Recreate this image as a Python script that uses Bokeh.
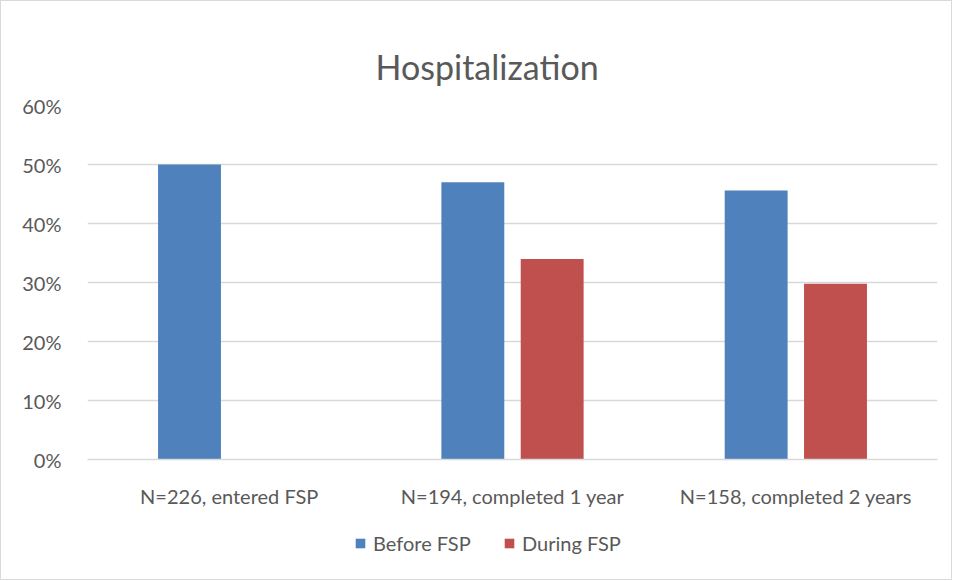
from bokeh.plotting import figure
from bokeh.layouts import column
from bokeh.models import (ColumnDataSource, FactorRange, Range1d, FixedTicker,
                          NumeralTickFormatter, Legend, LegendItem, Title)
from bokeh.transform import dodge
from bokeh.embed import file_html
from bokeh.resources import INLINE

categories = ["N=226, entered FSP", "N=194, completed 1 year", "N=158, completed 2 years"]
before_fsp = [0.50, 0.47, 0.456]
during_fsp = [float("nan"), 0.34, 0.298]
y_ticks = [0, 0.1, 0.2, 0.3, 0.4, 0.5, 0.6]
series_names = ["Before FSP", "During FSP"]
series_colors = ["#4f81bd", "#c0504d"]

FONT = "Lato"
GREY = "#595959"

src = ColumnDataSource(dict(cat=categories, before=before_fsp, during=during_fsp))

p = figure(frame_width=850, frame_height=354, x_range=FactorRange(*categories),
           y_range=Range1d(0, 0.6), output_backend="svg", toolbar_location=None,
           min_border_left=86, min_border_right=13, min_border_top=104, min_border_bottom=62)
p.outline_line_color = None

t = Title(text="Hospitalization", align="left", text_font=FONT, text_font_size="34px",
          text_color=GREY, text_font_style="normal", offset=288, standoff=38)
p.add_layout(t, "above")

p.vbar(x=dodge("cat", -0.14, range=p.x_range), top="before", width=0.222,
       source=src, fill_color=series_colors[0], line_color=None)
p.vbar(x=dodge("cat", 0.14, range=p.x_range), top="during", width=0.222,
       source=src, fill_color=series_colors[1], line_color=None)

p.yaxis.ticker = FixedTicker(ticks=y_ticks)
p.yaxis.formatter = NumeralTickFormatter(format="0%")
p.yaxis.axis_line_color = None
p.yaxis.major_tick_line_color = None
p.yaxis.minor_tick_line_color = None
p.yaxis.major_label_text_font = FONT
p.yaxis.major_label_text_font_size = "20px"
p.yaxis.major_label_text_color = GREY
p.yaxis.major_label_standoff = 20

p.xaxis.axis_line_color = "#d9d9d9"
p.xaxis.axis_line_width = 1.5
p.xaxis.major_tick_line_color = None
p.xaxis.minor_tick_line_color = None
p.xaxis.major_label_text_font = FONT
p.xaxis.major_label_text_font_size = "20px"
p.xaxis.major_label_text_color = GREY
p.xaxis.major_label_standoff = 18

p.xgrid.grid_line_color = None
p.ygrid.grid_line_color = "#d9d9d9"
p.ygrid.grid_line_width = 1.5
p.ygrid.ticker = FixedTicker(ticks=y_ticks)

# legend strip below the chart; its proxy bars lie outside its visible y range
lf = figure(width=950, height=58, x_range=FactorRange(*categories), y_range=Range1d(1, 2),
            x_axis_type=None, y_axis_type=None,
            output_backend="svg", toolbar_location=None, min_border=0)
lf.outline_line_color = None
lf.xgrid.visible = False
lf.ygrid.visible = False
lr1 = lf.vbar(x=dodge("cat", -0.14, range=lf.x_range), top="before", width=0.222,
              source=src, fill_color=series_colors[0], line_color=None)
lr2 = lf.vbar(x=dodge("cat", 0.14, range=lf.x_range), top="during", width=0.222,
              source=src, fill_color=series_colors[1], line_color=None)

legend = Legend(items=[LegendItem(label=series_names[0], renderers=[lr1]),
                       LegendItem(label=series_names[1], renderers=[lr2])],
                orientation="horizontal", location=(267, 24),
                label_text_font=FONT, label_text_font_size="20px", label_text_color=GREY,
                glyph_width=12, glyph_height=12, spacing=6, label_standoff=7,
                label_width=124,
                border_line_color=None, background_fill_alpha=0, padding=0, margin=0)
lf.add_layout(legend, "center")

layout = column(p, lf, spacing=0, styles={"border": "1px solid #d9d9d9"})

open("out.html", "w").write(file_html(layout, INLINE))
